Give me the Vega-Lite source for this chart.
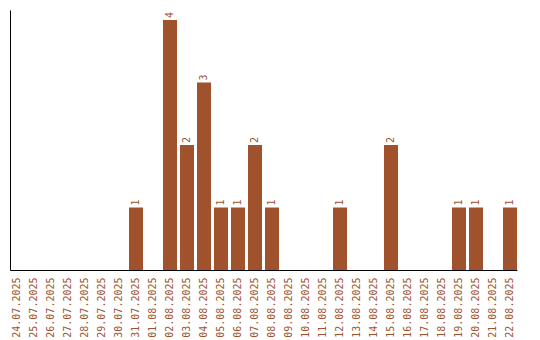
{
  "$schema": "https://vega.github.io/schema/vega-lite/v6.json",
  "width": 520,
  "height": 260,
  "autosize": {"type": "none"},
  "padding": {"left": 10, "top": 10, "right": 10, "bottom": 70},
  "config": {"view": {"stroke": null}, "font": "DejaVu Sans Mono"},
  "data": {"values": [
    {"date": "24.07.2025", "count": 0},
    {"date": "25.07.2025", "count": 0},
    {"date": "26.07.2025", "count": 0},
    {"date": "27.07.2025", "count": 0},
    {"date": "28.07.2025", "count": 0},
    {"date": "29.07.2025", "count": 0},
    {"date": "30.07.2025", "count": 0},
    {"date": "31.07.2025", "count": 1},
    {"date": "01.08.2025", "count": 0},
    {"date": "02.08.2025", "count": 4},
    {"date": "03.08.2025", "count": 2},
    {"date": "04.08.2025", "count": 3},
    {"date": "05.08.2025", "count": 1},
    {"date": "06.08.2025", "count": 1},
    {"date": "07.08.2025", "count": 2},
    {"date": "08.08.2025", "count": 1},
    {"date": "09.08.2025", "count": 0},
    {"date": "10.08.2025", "count": 0},
    {"date": "11.08.2025", "count": 0},
    {"date": "12.08.2025", "count": 1},
    {"date": "13.08.2025", "count": 0},
    {"date": "14.08.2025", "count": 0},
    {"date": "15.08.2025", "count": 2},
    {"date": "16.08.2025", "count": 0},
    {"date": "17.08.2025", "count": 0},
    {"date": "18.08.2025", "count": 0},
    {"date": "19.08.2025", "count": 1},
    {"date": "20.08.2025", "count": 1},
    {"date": "21.08.2025", "count": 0},
    {"date": "22.08.2025", "count": 1}
  ]},
  "encoding": {
    "x": {
      "field": "date", "type": "nominal", "sort": null,
      "scale": {"range": [0, 507], "paddingInner": 0.176, "paddingOuter": 0},
      "axis": {"title": null, "ticks": false, "labelAngle": -90, "labelAlign": "right", "labelBaseline": "middle",
               "labelPadding": 7, "labelColor": "#A0522D", "labelFontSize": 10, "labelFont": "DejaVu Sans Mono",
               "domainColor": "black", "domainWidth": 1, "labelOverlap": false}
    },
    "y": {
      "field": "count", "type": "quantitative",
      "scale": {"domain": [0, 4.16], "nice": false},
      "axis": {"title": null, "labels": false, "ticks": false, "grid": false, "domainColor": "black", "domainWidth": 1}
    }
  },
  "layer": [
    {"mark": {"type": "bar", "color": "#A0522D"}},
    {
      "transform": [{"filter": "datum.count > 0"}],
      "mark": {"type": "text", "angle": -90, "align": "left", "baseline": "middle", "dx": 2,
               "color": "#A0522D", "fontSize": 10, "font": "DejaVu Sans Mono"},
      "encoding": {"text": {"field": "count", "type": "quantitative"}}
    }
  ]
}
